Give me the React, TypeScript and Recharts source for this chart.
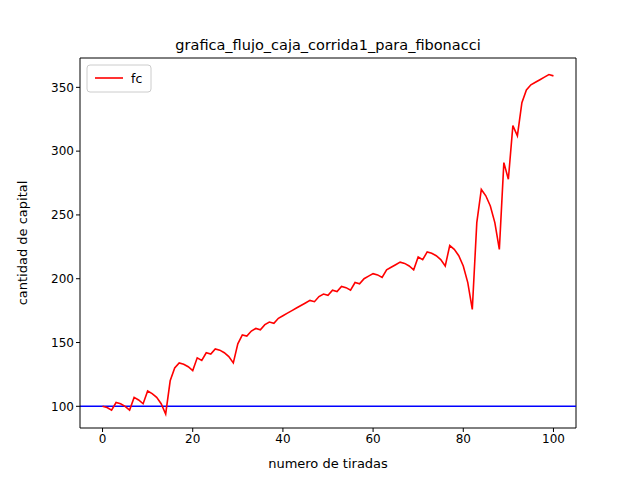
import { LineChart, Line, XAxis, YAxis, ReferenceLine } from "recharts";

const capital = [
  100, 99, 97, 103, 102, 100, 97, 107, 105, 102, 112, 110, 107, 102, 94, 120, 130, 134, 133, 131,
  128, 138, 136, 142, 141, 145, 144, 142, 139, 134, 149, 156, 155, 159, 161, 160, 164, 166, 165, 169,
  171, 173, 175, 177, 179, 181, 183, 182, 186, 188, 187, 191, 190, 194, 193, 191, 197, 196, 200, 202,
  204, 203, 201, 207, 209, 211, 213, 212, 210, 207, 217, 215, 221, 220, 218, 215, 210, 226, 223, 218,
  210, 197, 176, 244, 270, 265, 257, 244, 223, 291, 278, 320, 312, 338, 348, 352, 354, 356, 358, 360,
  359,
];
const xTicks = [0, 20, 40, 60, 80, 100];
const yTicks = [100, 150, 200, 250, 300, 350];

const data = capital.map((fc, i) => ({ tirada: i, fc }));

const FONT = "DejaVu Sans, sans-serif";

export default function App() {
  return (
    <div style={{ position: "absolute", left: 0, top: 0, width: 640, height: 480, background: "#fff", fontFamily: FONT }}>
      <LineChart width={640} height={480} data={data} margin={{ top: 58, right: 64, bottom: 0, left: 0 }}>
        <XAxis
          dataKey="tirada"
          type="number"
          domain={[-5, 105]}
          ticks={xTicks}
          tick={{ fontSize: 12, fill: "#000" }}
          stroke="#000"
          tickSize={4}
          height={52}
          label={{ value: "numero de tiradas", position: "insideBottom", offset: 12, fill: "#000", fontSize: 13 }}
        />
        <YAxis
          type="number"
          domain={[83, 373]}
          ticks={yTicks}
          tick={{ fontSize: 12, fill: "#000" }}
          stroke="#000"
          tickSize={4}
          width={80}
          label={{ value: "cantidad de capital", angle: -90, position: "insideLeft", offset: 22, fill: "#000", fontSize: 13, style: { textAnchor: "middle" } }}
        />
        <ReferenceLine y={100} stroke="#0000ff" strokeWidth={1.6} ifOverflow="extendDomain" />
        <Line dataKey="fc" stroke="#ff0000" strokeWidth={1.6} dot={false} isAnimationActive={false} />
        <line x1={576} y1={58} x2={576} y2={428} stroke="#000" />
        <line x1={80} y1={58} x2={576} y2={58} stroke="#000" />
        <text x={328} y={50} textAnchor="middle" fontSize={14.5} fill="#000">grafica_flujo_caja_corrida1_para_fibonacci</text>
        <rect x={87} y={65} width={64} height={27} rx={3} fill="#fff" stroke="#ccc" />
        <line x1={95} y1={78} x2={123} y2={78} stroke="#ff0000" strokeWidth={1.6} />
        <text x={131} y={83} fontSize={12.5} fill="#000">fc</text>
      </LineChart>
    </div>
  );
}
